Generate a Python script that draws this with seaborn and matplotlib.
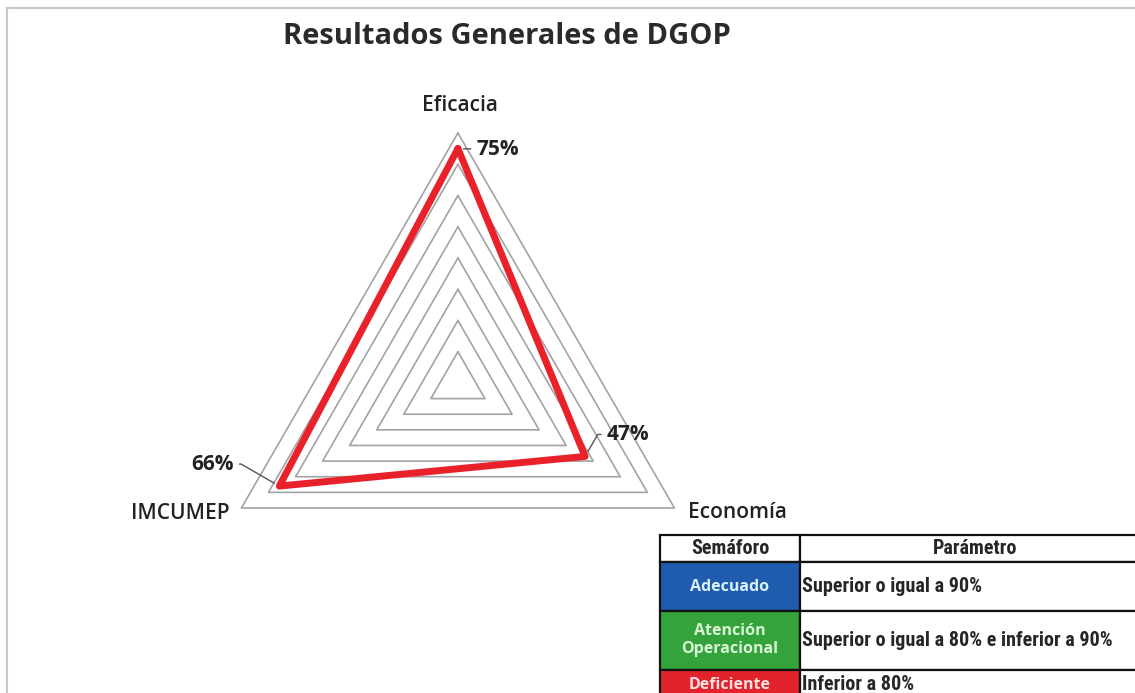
import numpy as np
import pandas as pd
import matplotlib.pyplot as plt
import matplotlib.patches as mpatches
import seaborn as sns

sns.set_style("white")
plt.rcParams['font.family'] = ['Open Sans', 'DejaVu Sans']

# datos
categorias = ['Eficacia', 'Economía', 'IMCUMEP']
valores = [75, 47, 66]
anillos = [10, 20, 30, 40, 50, 60, 70, 80]

semaforo = ['Adecuado', 'Atención\nOperacional', 'Deficiente']
parametro = ['Superior o igual a 90%',
             'Superior o igual a 80% e inferior a 90%',
             'Inferior a 80%']
colores_semaforo = ['#1f5cae', '#35a33c', '#e3232b']
texto_semaforo = ['#d8f0ff', '#d9f7d4', '#ffe0e0']

ROJO = '#e8212b'
GRIS = '#a3a3a3'

angulos = np.linspace(0, 2 * np.pi, len(categorias), endpoint=False)
ang_cerrado = np.append(angulos, angulos[0] + 2 * np.pi)
df = pd.DataFrame({'angulo': ang_cerrado, 'valor': valores + valores[:1]})

fig = plt.figure(figsize=(11.35, 6.93), dpi=100)

# marco gris de la imagen
fig.patches.append(mpatches.Rectangle((7 / 1135, -0.05), 1.1, 1 - 8 / 693 + 0.05,
                                      transform=fig.transFigure, fill=False,
                                      edgecolor='#c9c9c9', lw=1.5))

ax = fig.add_axes([0.1832, 0.0866, 0.4405, 0.7215], projection='polar')
ax.set_theta_offset(np.pi / 2)
ax.set_theta_direction(-1)
ax.set_ylim(0, 80)
ax.grid(False)
ax.set_xticks([])
ax.set_yticks([])
ax.spines['polar'].set_visible(False)
ax.set_facecolor('none')

# rejilla triangular
for r in anillos:
    ax.plot(ang_cerrado, [r] * len(ang_cerrado), color=GRIS, lw=1.2,
            clip_on=False, zorder=1)

sns.lineplot(data=df, x='angulo', y='valor', sort=False, ax=ax, color=ROJO,
             lw=5, estimator=None, clip_on=False, zorder=3)
ax.set_xlabel('')
ax.set_ylabel('')

# etiquetas de categoria
etiq_off = [(2, 28), (14, -5), (-12, -6)]
etiq_ha = ['center', 'left', 'right']
for ang, cat, off, ha in zip(angulos, categorias, etiq_off, etiq_ha):
    ax.annotate(cat, (ang, 80), xytext=off, textcoords='offset pixels',
                ha=ha, va='center', fontsize=15, fontweight='semibold',
                color='#222222', annotation_clip=False)

# etiquetas de valor con linea guia
val_off = [(19, -1), (22, 22), (-46, 22)]
val_ha = ['left', 'left', 'right']
val_con = ['arc3', 'angle,angleA=0,angleB=60', 'angle,angleA=0,angleB=-30']
for ang, v, off, ha, con in zip(angulos, valores, val_off, val_ha, val_con):
    ax.annotate(f'{v}%', (ang, v), xytext=off, textcoords='offset pixels',
                ha=ha, va='center', fontsize=15, fontweight='bold',
                color='#222222', annotation_clip=False,
                arrowprops=dict(arrowstyle='-', color='#555555', lw=1,
                                connectionstyle=con, shrinkA=2, shrinkB=4))

fig.text(283 / 1135, 1 - 36 / 693, 'Resultados Generales de DGOP',
         fontsize=21, fontweight='bold', color='#2a2a2a',
         ha='left', va='center')

# tabla del semaforo
tx = fig.add_axes([660 / 1135, -0.01, 490 / 1135, (693 - 535) / 693 + 0.01])
tx.axis('off')
celdas = [['Semáforo', 'Parámetro']] + [[s, p] for s, p in zip(semaforo, parametro)]
colores = [['white', 'white']] + [[c, 'white'] for c in colores_semaforo]
tabla = tx.table(cellText=celdas, cellColours=colores, bbox=[0, 0, 1, 1],
                 colWidths=[140, 350], cellLoc='left')
tabla.auto_set_font_size(False)
alturas = [27, 48, 58, 30]
total = sum(alturas)
for (fila, col), celda in tabla.get_celld().items():
    celda.set_height(alturas[fila] / total)
    celda.set_edgecolor('#111111')
    celda.set_linewidth(1.6)
    t = celda.get_text()
    t.set_fontsize(14.5)
    t.set_fontfamily(['Roboto Condensed', 'Liberation Sans Narrow', 'Open Sans'])
    if fila == 0:
        t.set_fontweight('bold')
        t.set_ha('center')
        celda._loc = 'center'
    elif col == 0:
        t.set_color(texto_semaforo[fila - 1])
        t.set_fontweight('bold')
        t.set_fontfamily(['Open Sans'])
        t.set_fontsize(11.5)
        t.set_ha('center')
        t.set_multialignment('center')
        celda._loc = 'center'
    else:
        t.set_fontweight('bold')
        celda.PAD = 0.005

fig.savefig('out.png', dpi=100)
